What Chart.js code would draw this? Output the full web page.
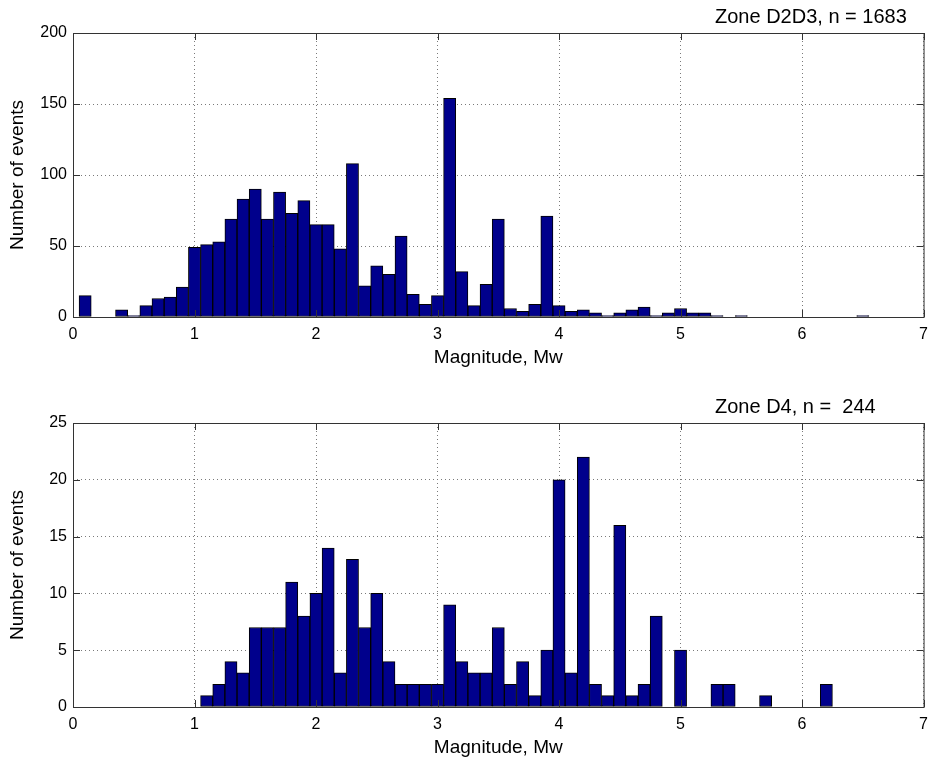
<!DOCTYPE html>
<html lang="en">
<head>
    <meta charset="UTF-8" />
    <title>Magnitude histograms</title>
    <script src="https://cdn.jsdelivr.net/npm/chart.js"></script>
    <style>
        body {
            margin: 0;
            background-color: #ffffff;
        }

        .panel {
            width: 936px;
            display: block;
        }
    </style>
</head>
<body>

<canvas id="histTop" class="panel" width="936" height="382"></canvas>
<canvas id="histBottom" class="panel" width="936" height="383"></canvas>

<script>
    // bin centres, Mw
    const magnitudeBins = [
        0.0, 0.1, 0.2, 0.3, 0.4, 0.5, 0.6, 0.7, 0.8, 0.9,
        1.0, 1.1, 1.2, 1.3, 1.4, 1.5, 1.6, 1.7, 1.8, 1.9,
        2.0, 2.1, 2.2, 2.3, 2.4, 2.5, 2.6, 2.7, 2.8, 2.9,
        3.0, 3.1, 3.2, 3.3, 3.4, 3.5, 3.6, 3.7, 3.8, 3.9,
        4.0, 4.1, 4.2, 4.3, 4.4, 4.5, 4.6, 4.7, 4.8, 4.9,
        5.0, 5.1, 5.2, 5.3, 5.4, 5.5, 5.6, 5.7, 5.8, 5.9,
        6.0, 6.1, 6.2, 6.3, 6.4, 6.5, 6.6, 6.7, 6.8, 6.9,
        7.0
    ];

    const countsD2D3 = [
        0, 15, 0, 0, 5, 1, 8, 13, 14, 21,
        49, 51, 53, 69, 83, 90, 69, 88, 73, 82,
        65, 65, 48, 108, 22, 36, 30, 57, 16, 9,
        15, 154, 32, 8, 23, 69, 6, 4, 9, 71,
        8, 4, 5, 3, 1, 3, 5, 7, 1, 3,
        6, 3, 3, 1, 0, 1, 0, 0, 0, 0,
        0, 0, 0, 0, 0, 1, 0, 0, 0, 0,
        0
    ];

    const countsD4 = [
        0, 0, 0, 0, 0, 0, 0, 0, 0, 0,
        0, 1, 2, 4, 3, 7, 7, 7, 11, 8,
        10, 14, 3, 13, 7, 10, 4, 2, 2, 2,
        2, 9, 4, 3, 3, 7, 2, 4, 1, 5,
        20, 3, 22, 2, 1, 16, 1, 2, 8, 0,
        5, 0, 0, 2, 2, 0, 0, 1, 0, 0,
        0, 0, 2, 0, 0, 0, 0, 0, 0, 0,
        0
    ];

    const xTicks = [0, 1, 2, 3, 4, 5, 6, 7];
    const yTicksD2D3 = [0, 50, 100, 150, 200];
    const yTicksD4 = [0, 5, 10, 15, 20, 25];

    const FONT = '"Liberation Sans", Arial, Helvetica, sans-serif';
    const FRAME_COLOR = '#333333';

    // MATLAB-like box with inward ticks plus the little title above the axes
    const framePlugin = {
        id: 'frame',
        afterDraw(chart, args, opts) {
            const { ctx, chartArea: a, scales } = chart;
            const tick = 7;
            ctx.save();
            ctx.strokeStyle = FRAME_COLOR;
            ctx.lineWidth = 1;
            ctx.strokeRect(a.left + 0.5, a.top + 0.5, a.right - a.left, a.bottom - a.top);

            ctx.beginPath();
            scales.x.ticks.forEach(t => {
                const px = Math.round(scales.x.getPixelForValue(t.value)) + 0.5;
                ctx.moveTo(px, a.bottom);
                ctx.lineTo(px, a.bottom - tick);
                ctx.moveTo(px, a.top);
                ctx.lineTo(px, a.top + tick);
            });
            scales.y.ticks.forEach(t => {
                const py = Math.round(scales.y.getPixelForValue(t.value)) + 0.5;
                ctx.moveTo(a.left, py);
                ctx.lineTo(a.left + tick, py);
                ctx.moveTo(a.right, py);
                ctx.lineTo(a.right - tick, py);
            });
            ctx.stroke();

            ctx.fillStyle = '#000';
            ctx.font = '20px ' + FONT;
            ctx.textAlign = 'left';
            ctx.textBaseline = 'middle';
            ctx.fillText(opts.text, opts.x, a.top - 16);
            ctx.restore();
        }
    };

    function makeHistogram(canvasId, counts, yTicks, titleText, padTop, padBottom) {
        const points = magnitudeBins.map((m, i) => ({ x: m, y: counts[i] }));

        return new Chart(document.getElementById(canvasId), {
            type: 'bar',
            data: {
                datasets: [{
                    data: points,
                    backgroundColor: '#00008c',
                    borderColor: '#000000',
                    borderWidth: 1,
                    borderSkipped: false,
                    barPercentage: 1.0,
                    categoryPercentage: 1.0
                }]
            },
            options: {
                responsive: false,
                animation: false,
                layout: {
                    padding: { left: 6, right: 6, top: padTop, bottom: padBottom }
                },
                plugins: {
                    legend: { display: false },
                    tooltip: { enabled: false },
                    frame: { text: titleText, x: 715 }
                },
                scales: {
                    x: {
                        type: 'linear',
                        offset: false,
                        min: xTicks[0],
                        max: xTicks[xTicks.length - 1],
                        afterBuildTicks: s => { s.ticks = xTicks.map(v => ({ value: v })); },
                        afterFit: s => { s.height = 52; },
                        grid: {
                            offset: false,
                            drawTicks: false,
                            color: '#7a7a7a',
                            lineWidth: 1
                        },
                        border: { display: false, dash: [1, 3] },
                        ticks: {
                            color: '#000',
                            padding: 8,
                            font: { family: FONT, size: 16 }
                        },
                        title: {
                            display: true,
                            text: 'Magnitude, Mw',
                            color: '#000',
                            padding: 0,
                            font: { family: FONT, size: 19 }
                        }
                    },
                    y: {
                        min: yTicks[0],
                        max: yTicks[yTicks.length - 1],
                        afterBuildTicks: s => { s.ticks = yTicks.map(v => ({ value: v })); },
                        afterFit: s => { s.width = 67; },
                        grid: {
                            drawTicks: false,
                            color: '#7a7a7a',
                            lineWidth: 1
                        },
                        border: { display: false, dash: [1, 3] },
                        ticks: {
                            color: '#000',
                            padding: 6,
                            font: { family: FONT, size: 16 }
                        },
                        title: {
                            display: true,
                            text: 'Number of events',
                            color: '#000',
                            padding: 0,
                            font: { family: FONT, size: 19 }
                        }
                    }
                }
            },
            plugins: [framePlugin]
        });
    }

    makeHistogram('histTop', countsD2D3, yTicksD2D3, 'Zone D2D3, n = 1683', 33, 13);
    makeHistogram('histBottom', countsD4, yTicksD4, 'Zone D4, n =  244', 41, 6);
</script>

</body>
</html>
